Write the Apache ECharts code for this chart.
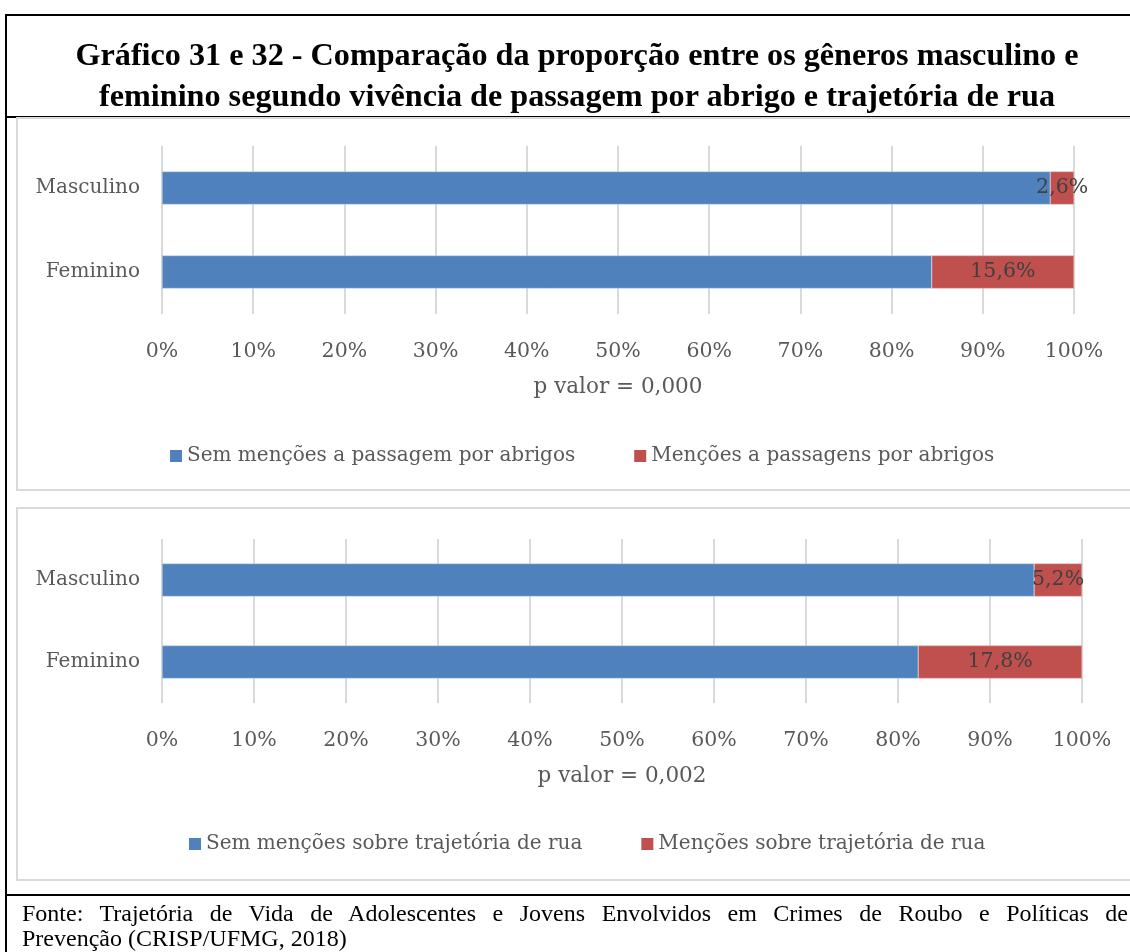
<!DOCTYPE html>
<html><head><meta charset="utf-8">
<script src="https://cdn.jsdelivr.net/npm/echarts@6/dist/echarts.min.js"></script>
<style>
html,body{margin:0;padding:0;background:#fff;width:1130px;height:952px;overflow:hidden;}
#frame{position:absolute;left:5px;top:14px;width:1130px;height:940px;border-left:2px solid #000;border-top:2px solid #000;}
#title{position:absolute;left:19px;top:34px;width:1116px;text-align:center;font-family:"Liberation Serif","Times New Roman",serif;font-weight:bold;font-size:32.2px;line-height:41px;color:#000;white-space:nowrap;}
#sep1{position:absolute;left:5px;top:116px;width:1130px;height:2px;background:#000;}
#sep2{position:absolute;left:5px;top:894px;width:1130px;height:2px;background:#000;}
#foot{position:absolute;left:22px;top:901px;width:1106px;font-family:"Liberation Serif","Times New Roman",serif;font-size:24px;line-height:25px;color:#000;white-space:nowrap;}
#foot .l1{text-align:justify;text-align-last:justify;}
#chart{position:absolute;left:0;top:0;width:1130px;height:952px;}
</style></head>
<body>
<div id="frame"></div>
<div id="sep1"></div>
<div id="sep2"></div>
<div id="chart"></div>
<div id="title">Gráfico 31 e 32 - Comparação da proporção entre os gêneros masculino e<br>feminino segundo vivência de passagem por abrigo e trajetória de rua</div>
<div id="foot"><div class="l1">Fonte: Trajetória de Vida de Adolescentes e Jovens Envolvidos em Crimes de Roubo e Políticas de</div><div>Prevenção (CRISP/UFMG, 2018)</div></div>
<script>
const categories = ["Masculino", "Feminino"];
const xTicks = [0, 10, 20, 30, 40, 50, 60, 70, 80, 90, 100];
// Chart 31: passagem por abrigos
const semAbrigo = [97.4, 84.4];
const comAbrigo = [2.6, 15.6];
const pAbrigo = "p valor = 0,000";
const legendAbrigo = ["Sem menções a passagem por abrigos", "Menções a passagens por abrigos"];
// Chart 32: trajetória de rua
const semRua = [94.8, 82.2];
const comRua = [5.2, 17.8];
const pRua = "p valor = 0,002";
const legendRua = ["Sem menções sobre trajetória de rua", "Menções sobre trajetória de rua"];

const FONT = "DejaVu Serif";
const BLUE = "#4F81BD", RED = "#C0504D";
const fmt = v => String(v).replace('.', ',') + '%';

const chart = echarts.init(document.getElementById('chart'), null, {renderer: 'canvas'});

function xAxis(gi, name) {
  return {
    gridIndex: gi, type: 'value', min: 0, max: 100, interval: 10,
    name: name, nameLocation: 'middle', nameGap: 62,
    nameTextStyle: {fontFamily: FONT, fontSize: 21.5, color: '#595959'},
    axisLine: {show: false}, axisTick: {show: false},
    axisLabel: {fontFamily: FONT, fontSize: 20.5, color: '#595959', margin: 27, formatter: v => v + '%'},
    splitLine: {show: true, lineStyle: {color: '#d9d9d9', width: 2}}
  };
}
function yAxis(gi) {
  return {
    gridIndex: gi, type: 'category', data: categories, inverse: true,
    axisLine: {show: false}, axisTick: {show: false},
    axisLabel: {fontFamily: FONT, fontSize: 20, color: '#595959', margin: 22}
  };
}
function bars(gi, names, a, b) {
  return [
    {type: 'bar', name: names[0], stack: 's' + gi, xAxisIndex: gi, yAxisIndex: gi, data: a, barWidth: 33,
     itemStyle: {color: BLUE, borderColor: '#c9d6e8', borderWidth: 0.5}},
    {type: 'bar', name: names[1], stack: 's' + gi, xAxisIndex: gi, yAxisIndex: gi, data: b, barWidth: 33,
     itemStyle: {color: RED, borderColor: '#e0b5b4', borderWidth: 0.5},
     label: {show: true, position: 'inside', formatter: p => fmt(p.value), fontFamily: FONT, fontSize: 20.5, color: '#404040'}}
  ];
}
function legend(names, top, left) {
  return {data: names, top: top, left: left, itemWidth: 12, itemHeight: 12, itemGap: 59, icon: 'rect',
    itemStyle: {borderWidth: 0},
    textStyle: {fontFamily: FONT, fontSize: 20, color: '#595959'}};
}

chart.setOption({
  animation: false,
  graphic: [
    {type: 'rect', shape: {x: 17, y: 118, width: 1120, height: 372}, style: {fill: 'none', stroke: '#d9d9d9', lineWidth: 2}},
    {type: 'rect', shape: {x: 17, y: 508, width: 1120, height: 372}, style: {fill: 'none', stroke: '#d9d9d9', lineWidth: 2}}
  ],
  grid: [
    {left: 162, right: 56, top: 146, height: 168},
    {left: 162, right: 48, top: 539, height: 164}
  ],
  xAxis: [xAxis(0, pAbrigo), xAxis(1, pRua)],
  yAxis: [yAxis(0), yAxis(1)],
  legend: [legend(legendAbrigo, 441, 165), legend(legendRua, 829, 184)],
  series: [...bars(0, legendAbrigo, semAbrigo, comAbrigo), ...bars(1, legendRua, semRua, comRua)]
});
</script>
</body></html>
